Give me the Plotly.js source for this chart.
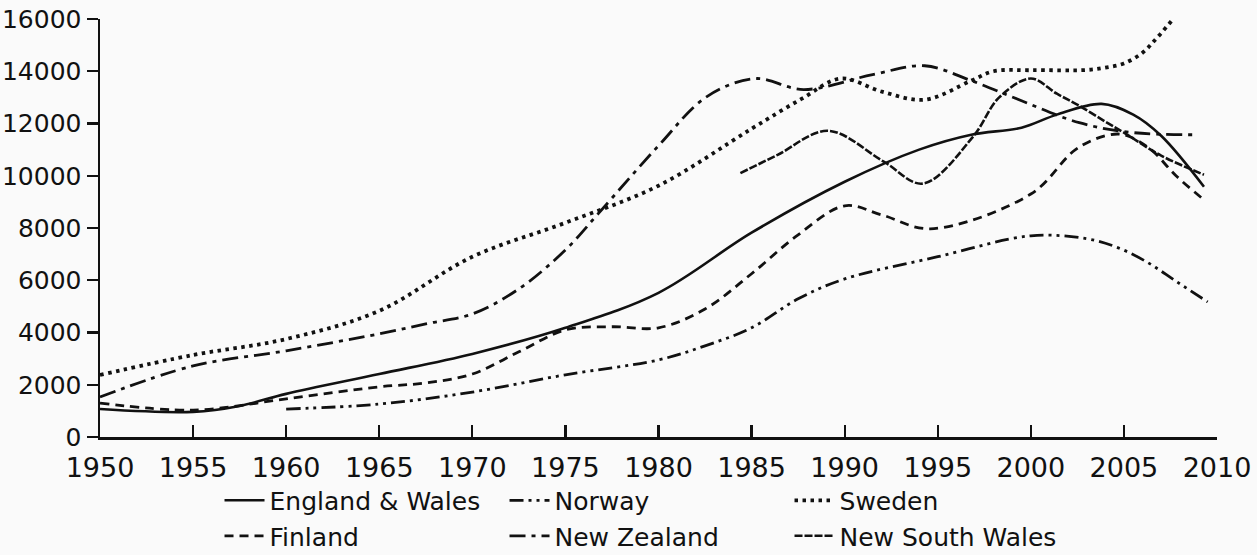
<!DOCTYPE html>
<html>
<head>
<meta charset="utf-8">
<script src="https://cdn.plot.ly/plotly-3.0.1.min.js"></script>
<style>html,body{margin:0;padding:0;background:#fafafa}</style>
</head>
<body>
<div id="chart" style="width:1257px;height:555px"></div>
<script>
// ---- Data ----
const seriesNames = ["England & Wales", "Norway", "Sweden", "Finland", "New Zealand", "New South Wales"];

const ewYears  = [1950, 1955, 1957.5, 1960, 1965, 1970, 1975, 1980, 1985, 1990, 1994, 1996.8, 1999.5, 2001.4, 2003.8, 2005.5, 2007, 2009.3];
const ewValues = [1070, 960, 1190, 1650, 2410, 3180, 4180, 5520, 7820, 9770, 11000, 11570, 11840, 12340, 12750, 12340, 11530, 9580];

const norwayYears  = [1960, 1965, 1970, 1975, 1980, 1982.5, 1985, 1987.5, 1990, 1995, 2000, 2003, 2004.7, 2006.3, 2007.8, 2009.5];
const norwayValues = [1070, 1260, 1720, 2380, 2950, 3490, 4180, 5290, 6050, 6900, 7700, 7590, 7240, 6670, 5960, 5170];

const swedenYears  = [1950, 1955, 1960, 1965, 1970, 1975, 1980, 1985, 1987.7, 1989.8, 1992, 1994.3, 1996.8, 1998, 2000, 2003, 2004, 2005, 2006, 2006.8, 2008];
const swedenValues = [2375, 3140, 3750, 4830, 6900, 8200, 9620, 11800, 12950, 13720, 13220, 12910, 13640, 14000, 14040, 14050, 14140, 14300, 14710, 15300, 16300];

const finlandYears  = [1950, 1955, 1960, 1965, 1967.5, 1970, 1972.5, 1975, 1977.5, 1980, 1982.5, 1985, 1987.5, 1990, 1992, 1994.6, 2000, 2002.4, 2004, 2005, 2006.4, 2007.8, 2009.3];
const finlandValues = [1300, 1030, 1460, 1920, 2070, 2410, 3260, 4100, 4220, 4180, 4900, 6250, 7740, 8850, 8500, 7970, 9300, 11000, 11530, 11570, 11030, 10000, 9080];

const nzYears  = [1950, 1955, 1960, 1965, 1967.5, 1970, 1972.5, 1975, 1976.8, 1980, 1982.6, 1985.2, 1987.8, 1991.5, 1994.3, 1996.8, 1999.5, 2002.6, 2005.5, 2009];
const nzValues = [1530, 2720, 3300, 3950, 4330, 4710, 5670, 7160, 8580, 11150, 13030, 13720, 13300, 13870, 14210, 13640, 12870, 12030, 11650, 11570];

const nswYears  = [1984.4, 1986.4, 1989.1, 1992.1, 1994.2, 1996.9, 1998.3, 2000, 2001.4, 2002.6, 2004, 2005, 2007, 2009.3];
const nswValues = [10100, 10800, 11720, 10540, 9700, 11500, 13000, 13720, 13140, 12680, 12070, 11650, 10770, 10040];

const yTickValues = [0, 2000, 4000, 6000, 8000, 10000, 12000, 14000, 16000];
const xTickValues = [1950, 1955, 1960, 1965, 1970, 1975, 1980, 1985, 1990, 1995, 2000, 2005, 2010];

// ---- Styles ----
const dashes = {
  "England & Wales": "solid",
  "Norway": "14px,5px,3px,5px,3px,5px",
  "Sweden": "3.5px,4.5px",
  "Finland": "9px,6px",
  "New Zealand": "16px,6px,4px,6px",
  "New South Wales": "8px,2px"
};
const widths = {
  "England & Wales": 2.6, "Norway": 2.8, "Sweden": 3.8,
  "Finland": 2.8, "New Zealand": 2.8, "New South Wales": 2.6
};

const xs = [ewYears, norwayYears, swedenYears, finlandYears, nzYears, nswYears];
const ys = [ewValues, norwayValues, swedenValues, finlandValues, nzValues, nswValues];

const traces = seriesNames.map((name, i) => ({
  type: "scatter",
  mode: "lines",
  name: name,
  x: xs[i],
  y: ys[i],
  line: { color: "#111", width: widths[name], dash: dashes[name], shape: "spline", smoothing: 1 },
  hoverinfo: "skip"
}));

const font = "DejaVu Sans, Liberation Sans, Arial, sans-serif";

const layout = {
  width: 1257,
  height: 555,
  paper_bgcolor: "#fafafa",
  plot_bgcolor: "#fafafa",
  margin: { l: 100, r: 40, t: 19, b: 118, autoexpand: false },
  showlegend: true,
  legend: {
    orientation: "h",
    x: 0.107, xanchor: "left",
    y: -0.097, yanchor: "top",
    entrywidth: 230, entrywidthmode: "pixels",
    font: { family: font, size: 25, color: "#111" },
    bgcolor: "rgba(0,0,0,0)",
    tracegroupgap: 0,
    itemwidth: 40
  },
  xaxis: {
    range: [1950, 2010],
    tickvals: xTickValues,
    ticktext: xTickValues.map(String),
    ticks: "inside",
    ticklen: 12,
    tickwidth: 2.2,
    tickcolor: "#111",
    ticklabelstandoff: 5,
    showline: true,
    linecolor: "#111",
    linewidth: 2.5,
    showgrid: false,
    zeroline: false,
    tickfont: { family: font, size: 27, color: "#111" },
    fixedrange: true
  },
  yaxis: {
    range: [0, 16000],
    tickvals: yTickValues,
    ticktext: yTickValues.map(String),
    ticks: "outside",
    ticklen: 11,
    tickwidth: 2.2,
    tickcolor: "#111",
    showline: true,
    linecolor: "#111",
    linewidth: 2.5,
    showgrid: false,
    zeroline: false,
    tickfont: { family: font, size: 25, color: "#111" },
    fixedrange: true
  }
};

Plotly.newPlot("chart", traces, layout, { displayModeBar: false, staticPlot: true });
</script>
</body>
</html>
